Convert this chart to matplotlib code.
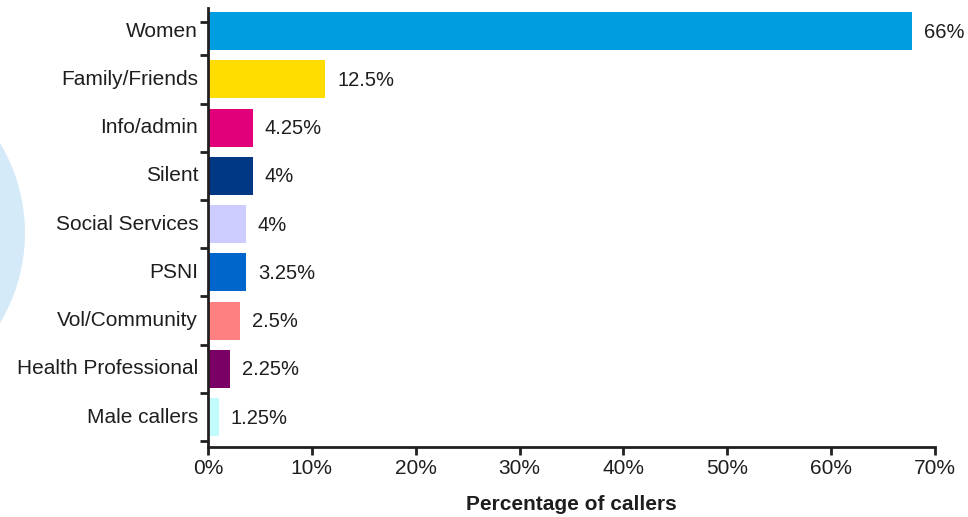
import matplotlib
matplotlib.use("Agg")
import matplotlib.pyplot as plt
import matplotlib.transforms as mtransforms
from matplotlib.patches import Ellipse
import numpy as np

plt.rcParams['font.family'] = ['Liberation Sans', 'DejaVu Sans']

categories = ["Women", "Family/Friends", "Info/admin", "Silent", "Social Services",
              "PSNI", "Vol/Community", "Health Professional", "Male callers"]
bar_values = [67.8, 11.3, 4.3, 4.3, 3.65, 3.65, 3.1, 2.1, 1.05]
value_labels = ["66%", "12.5%", "4.25%", "4%", "4%", "3.25%", "2.5%", "2.25%", "1.25%"]
colors = ["#009ee0", "#ffdd00", "#e2007a", "#003883", "#ccccff",
          "#0066cc", "#ff8080", "#7a0066", "#c2fbfc"]
xticks = [0, 10, 20, 30, 40, 50, 60, 70]

W, H = 968, 517
fig = plt.figure(figsize=(W / 100, H / 100), dpi=100)

# decorative circle on the left
circ = Ellipse((-149.5 / W, 1 - 233 / H), 2 * 174.5 / W, 2 * 174.5 / H,
               transform=fig.transFigure, facecolor="#d5eaf8", edgecolor="none", zorder=0)
fig.add_artist(circ)

ax = fig.add_axes([208 / W, 1 - 447 / H, (935 - 208) / W, (447 - 8) / H])
ax.patch.set_alpha(0)
y = np.arange(len(categories))
ax.barh(y, bar_values, height=0.79, color=colors, zorder=2)

ax.set_xlim(0, 70)
ax.set_ylim(8.62, -0.48)

ax.set_yticks(y)
ax.set_yticklabels(categories, fontsize=15, color="#1e1e1e")
ax.tick_params(axis='y', which='major', length=0, pad=7)
shift = mtransforms.ScaledTranslation(0, 2 / 100, fig.dpi_scale_trans)
for lbl in ax.get_yticklabels():
    lbl.set_transform(lbl.get_transform() + shift)
ax.set_yticks([-0.19] + list(np.arange(0.5, 8.6, 1.0)), minor=True)
ax.tick_params(axis='y', which='minor', length=6, width=2, color="#231f20", direction='out')

ax.set_xticks(xticks)
ax.set_xticklabels([f"{t}%" for t in xticks], fontsize=15, color="#1e1e1e")
ax.tick_params(axis='x', which='major', length=6, width=2, color="#231f20", direction='out', pad=3)

for s in ['top', 'right']:
    ax.spines[s].set_visible(False)
for s in ['left', 'bottom']:
    ax.spines[s].set_linewidth(2)
    ax.spines[s].set_color("#231f20")

for yi, v, lab in zip(y, bar_values, value_labels):
    ax.annotate(lab, (v, yi), xytext=(12, -1), textcoords='offset pixels',
                va='center', ha='left', fontsize=14.5, color="#1e1e1e")

ax.set_xlabel("Percentage of callers", fontsize=15, fontweight='bold', color="#1e1e1e", labelpad=12)

fig.savefig("out.png", dpi=100)
